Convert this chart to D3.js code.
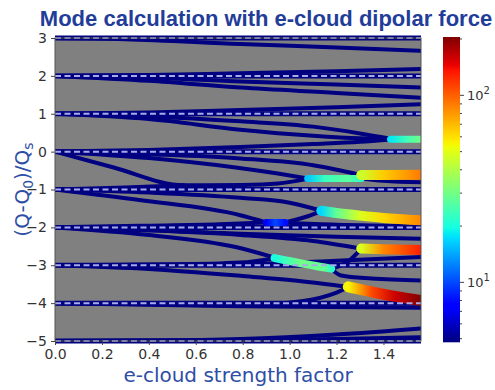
<!DOCTYPE html>
<html>
<head>
<meta charset="utf-8">
<script src="https://cdn.jsdelivr.net/npm/d3@7"></script>
<style>
  body { margin: 0; background: #fff; }
  .axis text { font-family: "DejaVu Sans", sans-serif; font-size: 14px; fill: #333; }
  .axis line { stroke: #444; }
  .axis path { display: none; }
</style>
</head>
<body>
<svg width="495" height="390"></svg>
<script>
// axis ticks
var xTicks = [0, 0.2, 0.4, 0.6, 0.8, 1.0, 1.2, 1.4];
var yTicks = [3, 2, 1, 0, -1, -2, -3, -4, -5];
var modeLevels = [3, 2, 1, 0, -1, -2, -3, -4, -5];
var cbarTicks = [10, 100];
var cbarMinor = [5, 6, 7, 8, 9, 20, 30, 40, 50, 60, 70, 80, 90, 200];

// stable mode branches: [strength factor, (Q-Q0)/Qs]
var modesM3 = [
  [[0, 3], [0.3, 2.97], [0.79, 2.84], [1.2, 2.75], [1.56, 2.66]]
];
var modesM2 = [
  [[0, 2], [0.4, 2.02], [0.79, 2.07], [1.2, 2.12], [1.56, 2.18]],
  [[0, 2], [0.4, 1.95], [0.79, 1.85], [1.2, 1.77], [1.56, 1.69]],
  [[0, 2], [0.4, 1.87], [0.79, 1.69], [1.2, 1.55], [1.56, 1.42]]
];
var modesM1 = [
  [[0, 1], [0.4, 1.03], [0.79, 1.1], [1.2, 1.17], [1.56, 1.25]],
  [[0, 1], [0.4, 0.93], [0.79, 0.8], [1.1, 0.66], [1.3, 0.48], [1.43, 0.34]],
  [[0, 1], [0.4, 0.86], [0.79, 0.58], [1.1, 0.42], [1.3, 0.35], [1.43, 0.33]]
];
var modesM0 = [
  [[0, 0], [0.4, 0.04], [0.79, 0.12], [1.1, 0.2], [1.3, 0.26], [1.43, 0.32]],
  [[0, 0], [0.4, -0.07], [0.79, -0.18], [1.1, -0.36], [1.305, -0.62]],
  [[0, 0], [0.4, -0.17], [0.77, -0.42], [0.95, -0.58], [1.077, -0.71]],
  [[0, 0], [0.25, -0.42], [0.55, -0.89], [0.8, -0.88], [0.95, -0.84], [1.077, -0.72]],
  [[1.305, -0.71], [1.4, -0.77], [1.56, -0.81]]
];
var modesMm1 = [
  [[0, -1], [0.3, -0.95], [0.55, -0.89]],
  [[0, -1], [0.4, -1.08], [0.79, -1.22], [1.0, -1.35], [1.135, -1.56]],
  [[0, -1], [0.36, -1.28], [0.79, -1.68], [0.9, -1.87]],
  [[0.98, -1.87], [1.06, -1.74], [1.135, -1.57]],
  [[0.98, -1.88], [1.2, -1.93], [1.56, -1.96]]
];
var modesMm2 = [
  [[0, -2], [0.36, -1.96], [0.7, -1.92], [0.9, -1.87]],
  [[0, -2], [0.4, -2.07], [0.79, -2.17], [1.2, -2.25], [1.56, -2.3]],
  [[0, -2], [0.4, -2.08], [0.79, -2.2], [1.1, -2.36], [1.305, -2.56]],
  [[0, -2], [0.4, -2.2], [0.77, -2.52], [0.936, -2.8]]
];
var modesMm3 = [
  [[0, -3], [0.5, -2.98], [0.79, -2.93], [0.936, -2.82]],
  [[0, -3], [0.79, -2.97], [1.2, -2.88], [1.56, -2.78]],
  [[0, -3], [0.4, -3.1], [0.79, -3.28], [1.05, -3.42], [1.25, -3.57]],
  [[1.177, -3.1], [1.22, -3.27], [1.35, -3.35], [1.56, -3.4]],
  [[1.177, -3.1], [1.25, -2.9], [1.305, -2.57]]
];
var modesMm4 = [
  [[0, -4], [0.4, -4.03], [0.79, -4.06], [1.05, -3.95], [1.2, -3.72], [1.25, -3.58]],
  [[0, -4], [0.79, -4.08], [1.56, -4.12]]
];
var modesMm5 = [
  [[0, -5], [0.4, -4.99], [0.79, -4.95], [1.2, -4.83], [1.56, -4.67]],
  [[0, -5], [0.79, -4.98], [1.2, -4.95], [1.56, -4.9]]
];

// unstable (coupled) modes: [strength factor, (Q-Q0)/Qs, growth rate]
var bandA = [[1.43, 0.33, 18], [1.5, 0.33, 24], [1.56, 0.33, 30]];
var bandB = [[1.077, -0.71, 16], [1.15, -0.71, 23], [1.25, -0.71, 27], [1.305, -0.71, 22]];
var bandC = [[1.305, -0.62, 45], [1.4, -0.615, 65], [1.56, -0.61, 90]];
var bandD = [[1.135, -1.56, 17], [1.2, -1.62, 28], [1.3, -1.69, 48], [1.4, -1.75, 62], [1.56, -1.81, 85]];
var bandE = [[0.9, -1.87, 7], [0.94, -1.87, 10], [0.98, -1.87, 8]];
var bandF = [[1.305, -2.56, 48], [1.4, -2.58, 85], [1.56, -2.6, 130]];
var bandG = [[0.936, -2.81, 20], [1.05, -2.95, 30], [1.15, -3.06, 28], [1.177, -3.09, 22]];
var bandH = [[1.25, -3.57, 55], [1.35, -3.7, 110], [1.45, -3.82, 160], [1.56, -3.93, 205]];

var stableBranches = [].concat(modesM3, modesM2, modesM1, modesM0, modesMm1, modesMm2, modesMm3, modesMm4, modesMm5);
var unstableBands = [bandA, bandB, bandC, bandD, bandE, bandF, bandG, bandH];
var bandWidths = [7, 7, 10, 10, 7, 10, 8, 11];

var svg = d3.select("svg");

var x = d3.scaleLinear().domain([0, 1.56]).range([55, 421]);
var y = d3.scaleLinear().domain([-5, 3]).range([341, 38]);
var cbar = d3.scaleLog().domain([4.8, 205]).range([342, 37]);
var cnorm = d3.scaleLog().domain([4.8, 205]).range([0, 1]).clamp(true);

// matplotlib jet
var jetR = d3.scaleLinear().domain([0, 0.35, 0.66, 0.89, 1]).range([0, 0, 255, 255, 128]).clamp(true);
var jetG = d3.scaleLinear().domain([0, 0.125, 0.375, 0.64, 0.91, 1]).range([0, 0, 255, 255, 0, 0]).clamp(true);
var jetB = d3.scaleLinear().domain([0, 0.11, 0.34, 0.65, 1]).range([128, 255, 255, 0, 0]).clamp(true);
function jet(t) { return d3.rgb(jetR(t), jetG(t), jetB(t)).toString(); }
function rateColor(v) { return jet(cnorm(v)); }
var navy = jet(0);

var defs = svg.append("defs");
defs.append("clipPath").attr("id", "plotclip")
  .append("rect")
    .attr("x", x(0)).attr("y", 30)
    .attr("width", x(1.56) - x(0)).attr("height", 320);

// title
svg.append("text")
    .attr("x", 266).attr("y", 26)
    .attr("text-anchor", "middle")
    .style("font-family", "'Liberation Sans', Arial, sans-serif")
    .style("font-weight", "bold")
    .style("font-size", "22px")
    .style("fill", "#1f3d99")
    .text("Mode calculation with e-cloud dipolar force");

// plot background
svg.append("rect")
    .attr("x", x(0)).attr("y", y(3))
    .attr("width", x(1.56) - x(0)).attr("height", y(-5) - y(3))
    .attr("fill", "#808080");

var plot = svg.append("g").attr("clip-path", "url(#plotclip)");

var line = d3.line()
    .x(function(d) { return x(d[0]); })
    .y(function(d) { return y(d[1]); })
    .curve(d3.curveMonotoneX);

plot.append("g").selectAll("line")
    .data(modeLevels)
    .enter().append("line")
      .attr("x1", x(0)).attr("x2", x(1.56))
      .attr("y1", function(d) { return y(d); })
      .attr("y2", function(d) { return y(d); })
      .attr("stroke", navy)
      .attr("stroke-width", 5);

plot.append("g").selectAll("path")
    .data(stableBranches)
    .enter().append("path")
      .attr("d", line)
      .attr("fill", "none")
      .attr("stroke", navy)
      .attr("stroke-width", 4)
      .attr("stroke-linecap", "round");

// coloured growth-rate bands
unstableBands.forEach(function(b, i) {
  var x1 = x(b[0][0]), x2 = x(b[b.length - 1][0]);
  var grad = defs.append("linearGradient")
      .attr("id", "band" + i)
      .attr("gradientUnits", "userSpaceOnUse")
      .attr("x1", x1).attr("x2", x2).attr("y1", 0).attr("y2", 0);
  b.forEach(function(p) {
    grad.append("stop")
        .attr("offset", (x(p[0]) - x1) / (x2 - x1))
        .attr("stop-color", rateColor(p[2]));
  });
  plot.append("path")
      .attr("d", line(b))
      .attr("fill", "none")
      .attr("stroke", "url(#band" + i + ")")
      .attr("stroke-width", bandWidths[i])
      .attr("stroke-linecap", "round");
});

plot.append("g").selectAll("line")
    .data(modeLevels)
    .enter().append("line")
      .attr("x1", x(0)).attr("x2", x(1.56))
      .attr("y1", function(d) { return y(d); })
      .attr("y2", function(d) { return y(d); })
      .attr("stroke", "#a6abe8")
      .attr("stroke-width", 2)
      .attr("stroke-dasharray", "6,3.5");

svg.append("rect")
    .attr("x", x(0)).attr("y", y(3))
    .attr("width", x(1.56) - x(0)).attr("height", y(-5) - y(3))
    .attr("fill", "none")
    .attr("stroke", "#555");

// axes
svg.append("g")
    .attr("class", "axis")
    .attr("transform", "translate(0," + y(-5) + ")")
    .call(d3.axisBottom(x).tickValues(xTicks).tickFormat(d3.format(".1f")).tickSize(4).tickPadding(4));

svg.append("g")
    .attr("class", "axis")
    .attr("transform", "translate(" + x(0) + ",0)")
    .call(d3.axisLeft(y).tickValues(yTicks).tickFormat(d3.format("d")).tickSize(4).tickPadding(4));

svg.append("text")
    .attr("x", (x(0) + x(1.56)) / 2).attr("y", 382)
    .attr("text-anchor", "middle")
    .style("font-family", "'DejaVu Sans', sans-serif")
    .style("font-size", "20px")
    .style("fill", "#2e4ea6")
    .text("e-cloud strength factor");

var ylab = svg.append("text")
    .attr("transform", "translate(29," + ((y(3) + y(-5)) / 2) + ") rotate(-90)")
    .attr("text-anchor", "middle")
    .style("font-family", "'DejaVu Sans', sans-serif")
    .style("font-size", "20px")
    .style("fill", "#2e4ea6");
ylab.append("tspan").text("(Q-Q");
ylab.append("tspan").attr("dy", 4).style("font-size", "14px").text("0");
ylab.append("tspan").attr("dy", -4).text(")/Q");
ylab.append("tspan").attr("dy", 4).style("font-size", "14px").text("s");

// colorbar
var cbx = 443, cbw = 17;
var cbg = svg.append("g");
cbg.selectAll("rect")
    .data(d3.range(37, 342))
    .enter().append("rect")
      .attr("x", cbx).attr("y", function(d) { return d; })
      .attr("width", cbw).attr("height", 1.3)
      .attr("fill", function(d) { return rateColor(cbar.invert(d + 0.5)); });

cbg.selectAll(".minor")
    .data(cbarMinor)
    .enter().append("line")
      .attr("x1", cbx + cbw).attr("x2", cbx + cbw + 2)
      .attr("y1", function(d) { return cbar(d); })
      .attr("y2", function(d) { return cbar(d); })
      .attr("stroke", "#444");

cbg.selectAll(".major")
    .data(cbarTicks)
    .enter().append("line")
      .attr("x1", cbx + cbw).attr("x2", cbx + cbw + 4)
      .attr("y1", function(d) { return cbar(d); })
      .attr("y2", function(d) { return cbar(d); })
      .attr("stroke", "#444");

cbarTicks.forEach(function(t) {
  var lab = cbg.append("text")
      .attr("x", cbx + cbw + 7).attr("y", cbar(t) + 5)
      .style("font-family", "'DejaVu Sans', sans-serif")
      .style("font-size", "13px")
      .style("fill", "#333");
  lab.append("tspan").text("10");
  lab.append("tspan").attr("dy", -6).style("font-size", "10px").text(String(Math.round(Math.log10(t))));
});
</script>
</body>
</html>
